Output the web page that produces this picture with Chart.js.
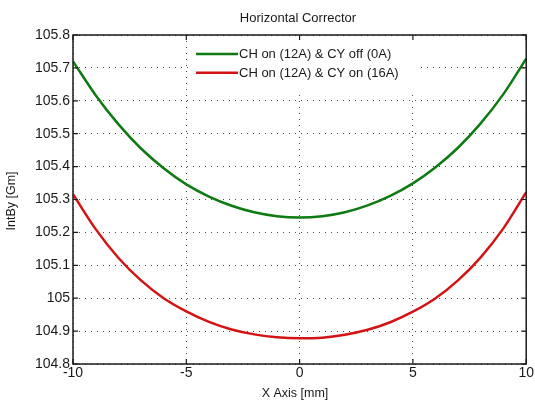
<!DOCTYPE html>
<html>
<head>
<meta charset="utf-8">
<script src="https://cdn.jsdelivr.net/npm/chart.js@4"></script>
<style>
  html, body { margin: 0; padding: 0; background: #fff; }
  #wrap { width: 535px; height: 401px; position: relative; }
</style>
</head>
<body>
<div id="wrap"><canvas id="c" width="535" height="401"></canvas></div>
<script>
// ---- data ----
const chartTitle = 'Horizontal Corrector';
const xAxisTitle = 'X Axis [mm]';
const yAxisTitle = 'IntBy [Gm]';
const xPositions = [-10, -9, -8, -7, -6, -5, -4, -3, -2, -1, 0, 1, 2, 3, 4, 5, 6, 7, 8, 9, 10];
const seriesNames = ['CH on (12A) & CY off (0A)', 'CH on (12A) & CY on (16A)'];
const greenValues = [105.720, 105.617, 105.529, 105.455, 105.395, 105.346, 105.309, 105.281, 105.261, 105.249, 105.245,
                     105.249, 105.261, 105.282, 105.311, 105.349, 105.398, 105.458, 105.532, 105.621, 105.728];
const redValues   = [105.316, 105.210, 105.123, 105.054, 105.000, 104.960, 104.928, 104.905, 104.890, 104.881, 104.878,
                     104.880, 104.889, 104.904, 104.927, 104.959, 105.000, 105.055, 105.125, 105.213, 105.322];
const xTickValues = [-10, -5, 0, 5, 10];
const xTickLabels = ['-10', '-5', '0', '5', '10'];
const yTickValues = [104.8, 104.9, 105.0, 105.1, 105.2, 105.3, 105.4, 105.5, 105.6, 105.7, 105.8];
const yTickLabels = ['104.8', '104.9', '105', '105.1', '105.2', '105.3', '105.4', '105.5', '105.6', '105.7', '105.8'];

const FONT = '"Liberation Sans", Arial, sans-serif';
const colors = ['#0d7a12', '#d41414'];

function pts(ys) { return xPositions.map((x, i) => ({ x: x, y: ys[i] })); }

const decorPlugin = {
  id: 'decor',
  afterDraw(chart) {
    const ctx = chart.ctx;
    const a = chart.chartArea;
    const xs = chart.scales.x, ys = chart.scales.y;
    ctx.save();
    // frame
    ctx.strokeStyle = '#1a1a1a';
    ctx.lineWidth = 1.5;
    ctx.strokeRect(a.left, a.top, a.right - a.left, a.bottom - a.top);
    // inward tick marks
    ctx.lineWidth = 1.2;
    ctx.beginPath();
    xTickValues.forEach(v => {
      const px = xs.getPixelForValue(v);
      ctx.moveTo(px, a.bottom); ctx.lineTo(px, a.bottom - 5);
      ctx.moveTo(px, a.top); ctx.lineTo(px, a.top + 5);
    });
    yTickValues.forEach(v => {
      const py = ys.getPixelForValue(v);
      ctx.moveTo(a.left, py); ctx.lineTo(a.left + 5, py);
      ctx.moveTo(a.right, py); ctx.lineTo(a.right - 5, py);
    });
    ctx.stroke();

    // title
    ctx.fillStyle = '#1a1a1a';
    ctx.font = '13px ' + FONT;
    ctx.textAlign = 'center';
    ctx.textBaseline = 'middle';
    ctx.fillText(chartTitle, 298, 18);
    // x axis title
    ctx.font = '12.5px ' + FONT;
    ctx.fillText(xAxisTitle, 295, 394);
    // y axis title
    ctx.save();
    ctx.translate(12, 201);
    ctx.rotate(-Math.PI / 2);
    ctx.fillText(yAxisTitle, 0, 0);
    ctx.restore();

    // legend
    ctx.fillStyle = '#ffffff';
    ctx.fillRect(188, 41, 232, 50);
    ctx.font = '13px ' + FONT;
    ctx.textAlign = 'left';
    chart.data.datasets.forEach((ds, i) => {
      const y = 54 + i * 18.7;
      ctx.strokeStyle = ds.borderColor;
      ctx.lineWidth = 2.5;
      ctx.beginPath();
      ctx.moveTo(196, y); ctx.lineTo(238, y);
      ctx.stroke();
      ctx.fillStyle = '#1a1a1a';
      ctx.fillText(ds.label, 239, y + 0.5);
    });
    ctx.restore();
  }
};

new Chart(document.getElementById('c'), {
  type: 'scatter',
  data: {
    datasets: [
      { label: seriesNames[0], data: pts(greenValues), borderColor: colors[0], backgroundColor: colors[0],
        showLine: true, pointRadius: 0, borderWidth: 2.5, cubicInterpolationMode: 'monotone' },
      { label: seriesNames[1], data: pts(redValues), borderColor: colors[1], backgroundColor: colors[1],
        showLine: true, pointRadius: 0, borderWidth: 2.5, cubicInterpolationMode: 'monotone' }
    ]
  },
  options: {
    responsive: false,
    animation: false,
    devicePixelRatio: 1,
    layout: { padding: { left: 0, right: 5, top: 35, bottom: 0 } },
    plugins: { legend: { display: false }, title: { display: false }, tooltip: { enabled: false } },
    scales: {
      x: {
        type: 'linear', min: -10, max: 10,
        afterBuildTicks(s) { s.ticks = xTickValues.map(v => ({ value: v })); },
        afterFit(s) { s.height = 37; },
        ticks: {
          color: '#1a1a1a', font: { family: FONT, size: 14 }, padding: 1, maxRotation: 0,
          callback(v) { const i = xTickValues.indexOf(v); return i >= 0 ? xTickLabels[i] : ''; }
        },
        grid: { color: 'rgba(40,40,40,0.85)', lineWidth: 1, drawTicks: false },
        border: { display: false, dash: [1, 5] }
      },
      y: {
        type: 'linear', min: 104.8, max: 105.8,
        afterBuildTicks(s) { s.ticks = yTickValues.map(v => ({ value: v })); },
        afterFit(s) { s.width = 73; },
        ticks: {
          color: '#1a1a1a', font: { family: FONT, size: 14 }, padding: 3,
          callback(v) {
            const i = yTickValues.findIndex(t => Math.abs(t - v) < 1e-6);
            return i >= 0 ? yTickLabels[i] : '';
          }
        },
        grid: { color: 'rgba(40,40,40,0.85)', lineWidth: 1, drawTicks: false },
        border: { display: false, dash: [1, 5] }
      }
    }
  },
  plugins: [decorPlugin]
});
</script>
</body>
</html>
